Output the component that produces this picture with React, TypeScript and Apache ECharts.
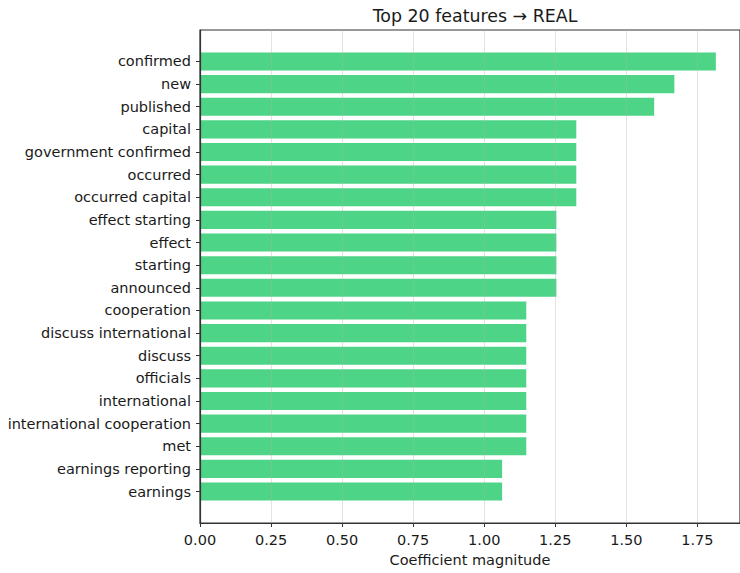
import React, { useEffect, useRef } from "react";
import * as echarts from "echarts";

const categories = [
  "confirmed",
  "new",
  "published",
  "capital",
  "government confirmed",
  "occurred",
  "occurred capital",
  "effect starting",
  "effect",
  "starting",
  "announced",
  "cooperation",
  "discuss international",
  "discuss",
  "officials",
  "international",
  "international cooperation",
  "met",
  "earnings reporting",
  "earnings",
];

const values = [
  1.815, 1.669, 1.598, 1.324, 1.324, 1.324, 1.324, 1.254, 1.254, 1.254, 1.254,
  1.148, 1.148, 1.148, 1.148, 1.148, 1.148, 1.148, 1.063, 1.063,
];

const titleText = "Top 20 features \u2192 REAL";
const xAxisName = "Coefficient magnitude";
const xMin = 0;
const xMax = 1.9;
const xInterval = 0.25;

const FONT = "DejaVu Sans";

export default function App() {
  const ref = useRef<HTMLDivElement>(null);

  useEffect(() => {
    if (!ref.current) return;
    const chart = echarts.init(ref.current, null, { renderer: "svg" });

    const plotLeft = 200;
    const plotTop = 30;
    const plotBottom = 523;
    const plotWidth = 541;
    const plotHeight = plotBottom - plotTop;
    const unit = plotHeight / 21.78;
    const bandTop = plotTop + 0.89 * unit;
    const bandHeight = categories.length * unit;

    chart.setOption({
      animation: false,
      backgroundColor: "#ffffff",
      title: {
        text: titleText,
        left: plotLeft + 540 / 2,
        textAlign: "center",
        top: 2.5,
        textStyle: {
          fontFamily: FONT,
          fontSize: 17.4,
          fontWeight: "normal",
          color: "#1a1a1a",
        },
      },
      grid: [
        {
          left: plotLeft,
          top: plotTop,
          width: plotWidth,
          height: plotHeight,
          show: true,
          borderColor: "#333333",
          borderWidth: 1.2,
          backgroundColor: "transparent",
        },
        {
          left: plotLeft,
          top: bandTop,
          width: plotWidth,
          height: bandHeight,
        },
      ],
      xAxis: [
        {
          gridIndex: 0,
          type: "value",
          min: xMin,
          max: xMax,
          interval: xInterval,
          z: 5,
          name: xAxisName,
          nameLocation: "middle",
          nameGap: 29,
          nameTextStyle: { fontFamily: FONT, fontSize: 14.5, color: "#1a1a1a" },
          axisLine: { show: true, lineStyle: { color: "#333333", width: 1.2 } },
          axisTick: { show: true, length: 4, lineStyle: { color: "#333333", width: 1 } },
          axisLabel: {
            fontFamily: FONT,
            fontSize: 14.5,
            color: "#1a1a1a",
            margin: 9,
            showMaxLabel: false,
            formatter: (v: number) => v.toFixed(2),
          },
          splitLine: { show: true, lineStyle: { color: "#b0b0b0", opacity: 0.35, width: 1 } },
        },
        {
          gridIndex: 1,
          type: "value",
          min: xMin,
          max: xMax,
          show: false,
        },
      ],
      yAxis: [
        {
          gridIndex: 0,
          type: "value",
          min: 0,
          max: 1,
          z: 5,
          axisLine: { show: true, lineStyle: { color: "#333333", width: 1.2 } },
          axisTick: { show: false },
          axisLabel: { show: false },
          splitLine: { show: false },
        },
        {
          gridIndex: 1,
          type: "category",
          data: categories,
          inverse: true,
          axisLine: { show: false },
          axisTick: { show: true, alignWithLabel: true, length: 4, lineStyle: { color: "#333333", width: 1 } },
          axisLabel: {
            fontFamily: FONT,
            fontSize: 14.5,
            color: "#1a1a1a",
            margin: 9,
          },
          splitLine: { show: false },
        },
      ],
      series: [
        {
          type: "bar",
          xAxisIndex: 1,
          yAxisIndex: 1,
          data: values,
          barWidth: 0.8 * unit,
          itemStyle: { color: "#2ecc71", opacity: 0.85 },
          z: 2,
        },
      ],
    });

    return () => chart.dispose();
  }, []);

  return (
    <div
      ref={ref}
      style={{ position: "fixed", left: 0, top: 0, width: 740, height: 573 }}
    />
  );
}
